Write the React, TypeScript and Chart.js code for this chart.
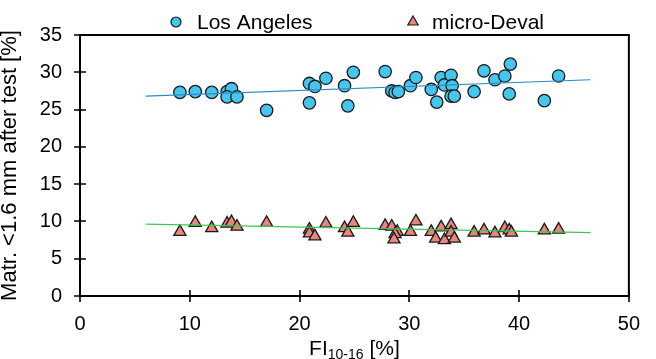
import React, { useEffect, useRef } from "react";
import { Chart, registerables } from "chart.js";

Chart.register(...registerables);

// ---- data ----
const laX = [9.1, 10.5, 12.0, 13.4, 13.8, 13.4, 14.3, 17.0, 20.9, 21.4, 22.4, 20.9, 24.1, 24.9, 24.4, 27.8, 28.4, 28.7, 29.0, 30.1, 30.6, 32.0, 32.9, 32.5, 33.2, 33.8, 33.9, 33.8, 34.1, 35.9, 36.8, 37.8, 38.7, 39.2, 39.1, 42.3, 43.6];
const laY = [27.3, 27.4, 27.3, 27.4, 27.8, 26.7, 26.7, 24.9, 28.5, 28.1, 29.2, 25.9, 28.2, 30.0, 25.5, 30.1, 27.5, 27.3, 27.4, 28.2, 29.3, 27.7, 29.3, 26.0, 28.3, 29.6, 28.2, 26.8, 26.8, 27.4, 30.2, 29.0, 29.5, 31.1, 27.1, 26.2, 29.5];

const mdX = [9.1, 10.5, 12.0, 13.4, 13.8, 14.3, 17.0, 20.9, 20.9, 21.4, 22.4, 24.1, 24.4, 24.9, 27.8, 28.4, 28.9, 28.7, 28.6, 30.1, 30.6, 32.0, 32.4, 32.9, 33.2, 33.8, 33.8, 34.1, 35.9, 36.8, 37.8, 38.7, 39.1, 39.3, 42.3, 43.6];
const mdY = [8.6, 9.8, 9.1, 9.7, 9.9, 9.3, 9.8, 8.9, 8.4, 8.0, 9.7, 9.1, 8.5, 9.8, 9.4, 9.3, 8.6, 8.3, 7.6, 8.6, 10.0, 8.6, 7.7, 9.2, 7.5, 9.5, 8.5, 7.7, 8.5, 8.8, 8.4, 9.1, 8.8, 8.5, 8.8, 8.9];

const laTrendX = [6.0, 46.5];
const laTrendY = [26.8, 29.0];
const mdTrendX = [6.0, 46.5];
const mdTrendY = [9.65, 8.5];

const seriesNames = ["Los Angeles", "micro-Deval"];
const xTitleMain = "FI";
const xTitleSub = "10-16";
const xTitleTail = " [%]";
const yTitle = "Matr. <1.6 mm after test [%]";

const X_MIN = 0, X_MAX = 50, X_STEP = 10;
const Y_MIN = 0, Y_MAX = 35, Y_STEP = 5;

// ---- styles ----
const FONT = "'Liberation Sans', Arial, Helvetica, sans-serif";
const LA_FILL = "#45c6ef";
const MD_FILL = "#e8857c";
const EDGE = "#1a1a1a";
const LA_TREND = "#2a8cc6";
const MD_TREND = "#3ec653";

const pts = (xs: number[], ys: number[]) => xs.map((x, i) => ({ x, y: ys[i] }));

const framePlugin = {
  id: "frame",
  afterDraw(chart: any) {
    const { ctx, chartArea: a, scales } = chart;
    const xs = scales.x;
    const ys = scales.y;
    ctx.save();
    // frame
    ctx.strokeStyle = "#000";
    ctx.lineWidth = 2;
    ctx.strokeRect(a.left, a.top, a.right - a.left, a.bottom - a.top);
    // cross ticks
    ctx.lineWidth = 1.6;
    ctx.beginPath();
    xs.ticks.forEach((t: any) => {
      const px = Math.round(xs.getPixelForValue(t.value));
      ctx.moveTo(px, a.bottom - 6);
      ctx.lineTo(px, a.bottom + 6);
    });
    ys.ticks.forEach((t: any) => {
      const py = Math.round(ys.getPixelForValue(t.value));
      ctx.moveTo(a.left - 6, py);
      ctx.lineTo(a.left + 6, py);
    });
    ctx.stroke();

    // legend
    ctx.fillStyle = "#000";
    ctx.font = `21px ${FONT}`;
    ctx.textBaseline = "alphabetic";
    ctx.textAlign = "left";
    const ly = 22;
    // circle marker
    ctx.beginPath();
    ctx.arc(176, ly, 5, 0, Math.PI * 2);
    ctx.fillStyle = LA_FILL;
    ctx.fill();
    ctx.lineWidth = 1.2;
    ctx.strokeStyle = EDGE;
    ctx.stroke();
    ctx.fillStyle = "#000";
    ctx.fillText(seriesNames[0], 197, 28.5);
    // triangle marker
    const r = 6;
    const tx = 413;
    ctx.beginPath();
    ctx.moveTo(tx, ly - r);
    ctx.lineTo(tx + r * 0.866, ly + r / 2);
    ctx.lineTo(tx - r * 0.866, ly + r / 2);
    ctx.closePath();
    ctx.fillStyle = MD_FILL;
    ctx.fill();
    ctx.stroke();
    ctx.fillStyle = "#000";
    ctx.fillText(seriesNames[1], 432, 28.5);

    // x title with subscript
    const mainF = `21px ${FONT}`;
    const subF = `14px ${FONT}`;
    ctx.font = mainF;
    const w1 = ctx.measureText(xTitleMain).width;
    const w3 = ctx.measureText(xTitleTail).width;
    ctx.font = subF;
    const w2 = ctx.measureText(xTitleSub).width;
    const total = w1 + w2 + w3;
    const cx = (a.left + a.right) / 2;
    let sx = cx - total / 2;
    const baseY = 355;
    ctx.font = mainF;
    ctx.fillText(xTitleMain, sx, baseY);
    sx += w1;
    ctx.font = subF;
    ctx.fillText(xTitleSub, sx, baseY + 4);
    sx += w2;
    ctx.font = mainF;
    ctx.fillText(xTitleTail, sx, baseY);

    // y title
    ctx.save();
    ctx.translate(16, (a.top + a.bottom) / 2);
    ctx.rotate(-Math.PI / 2);
    ctx.font = `22px ${FONT}`;
    ctx.textAlign = "center";
    ctx.fillText(yTitle, 0, 0);
    ctx.restore();

    ctx.restore();
  },
};

export default function App() {
  const ref = useRef<HTMLCanvasElement | null>(null);
  useEffect(() => {
    document.body.style.margin = "0";
    if (!ref.current) return;
    const chart = new Chart(ref.current, {
      type: "scatter",
      data: {
        datasets: [
          {
            type: "line",
            label: "LA trend",
            data: pts(laTrendX, laTrendY),
            borderColor: LA_TREND,
            borderWidth: 1.2,
            pointRadius: 0,
            fill: false,
            order: 0,
          },
          {
            type: "line",
            label: "MD trend",
            data: pts(mdTrendX, mdTrendY),
            borderColor: MD_TREND,
            borderWidth: 1.2,
            pointRadius: 0,
            fill: false,
            order: 0,
          },
          {
            label: seriesNames[0],
            data: pts(laX, laY),
            pointStyle: "circle",
            pointRadius: 6.2,
            pointBackgroundColor: LA_FILL,
            pointBorderColor: EDGE,
            pointBorderWidth: 1.3,
            order: 1,
          },
          {
            label: seriesNames[1],
            data: pts(mdX, mdY),
            pointStyle: "triangle",
            pointRadius: 7,
            pointBackgroundColor: MD_FILL,
            pointBorderColor: EDGE,
            pointBorderWidth: 1.3,
            order: 1,
          },
        ],
      } as any,
      options: {
        responsive: false,
        animation: false,
        devicePixelRatio: 1,
        layout: { padding: { left: 0, right: 13, top: 35, bottom: 0 } },
        plugins: {
          legend: { display: false },
          tooltip: { enabled: false },
        },
        scales: {
          x: {
            type: "linear",
            min: X_MIN,
            max: X_MAX,
            ticks: {
              stepSize: X_STEP,
              color: "#000",
              font: { family: FONT, size: 20 },
              padding: 16,
              maxRotation: 0,
            },
            grid: { display: false, drawTicks: false },
            border: { display: true, color: "#000", width: 2 },
            afterFit: (s: any) => {
              s.height = 63;
            },
          },
          y: {
            type: "linear",
            min: Y_MIN,
            max: Y_MAX,
            ticks: {
              stepSize: Y_STEP,
              color: "#000",
              font: { family: FONT, size: 20 },
              padding: 18,
            },
            grid: { display: false, drawTicks: false },
            border: { display: true, color: "#000", width: 2 },
            afterFit: (s: any) => {
              s.width = 80;
            },
          },
        },
      } as any,
      plugins: [framePlugin],
    });
    return () => chart.destroy();
  }, []);
  return (
    <div style={{ width: 656, height: 359 }}>
      <canvas ref={ref} width={656} height={359} style={{ display: "block" }} />
    </div>
  );
}
